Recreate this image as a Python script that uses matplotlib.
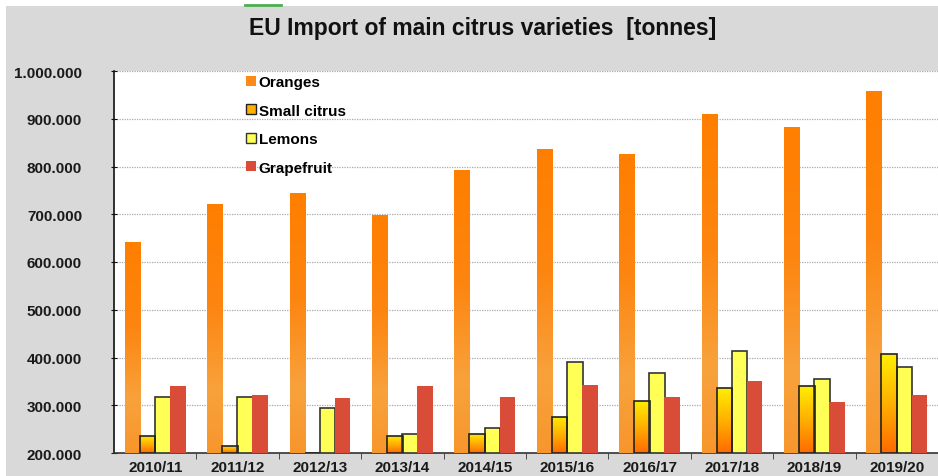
import numpy as np
import matplotlib
matplotlib.use("Agg")
import matplotlib.pyplot as plt
from matplotlib.patches import Rectangle
from matplotlib.lines import Line2D
from matplotlib.colors import LinearSegmentedColormap
from matplotlib.ticker import FixedLocator

plt.rcParams['font.family'] = ['Liberation Sans', 'DejaVu Sans']

seasons = ["2010/11", "2011/12", "2012/13", "2013/14", "2014/15",
           "2015/16", "2016/17", "2017/18", "2018/19", "2019/20"]
oranges = [642000, 721000, 744000, 698000, 793000, 837000, 826000, 910000, 883000, 958000]
small_citrus = [236000, 215000, 201000, 236000, 240000, 276000, 309000, 336000, 340000, 407000]
lemons = [317000, 318000, 295000, 240000, 252000, 390000, 367000, 414000, 356000, 381000]
grapefruit = [341000, 321000, 315000, 340000, 318000, 343000, 317000, 351000, 306000, 321000]
series_names = ["Oranges", "Small citrus", "Lemons", "Grapefruit"]
ytick_vals = [200000, 300000, 400000, 500000, 600000, 700000, 800000, 900000, 1000000]
ytick_labels = ["200.000", "300.000", "400.000", "500.000", "600.000",
                "700.000", "800.000", "900.000", "1.000.000"]

fig = plt.figure(figsize=(9.38, 4.77), dpi=100)
fig.patch.set_facecolor("white")
fig.add_artist(Rectangle((6/938, 0), 1, (477-7)/477, transform=fig.transFigure,
                         facecolor="#d9d9d9", edgecolor="none", zorder=0))
fig.add_artist(Line2D([245/938, 281/938], [1-6/477, 1-6/477], transform=fig.transFigure,
                      color="#4caf50", lw=2))

ax = fig.add_axes([114/938, 1-454/477, 1-114/938, (454-72)/477])
ax.set_facecolor("white")

ymin, ymax = 200000, 1000000
x = np.arange(len(seasons))
step = 0.183
w = 0.19
offsets = [-1.5*step, -0.5*step, 0.5*step, 1.5*step]

cm_orange = LinearSegmentedColormap.from_list("o", [(0, "#ff7f00"), (0.4, "#fd8510"), (0.75, "#f8a23c"), (1.0, "#f7962c")])
cm_small = LinearSegmentedColormap.from_list("s", [(0, "#ffee00"), (0.5, "#ffb000"), (1.0, "#ff6a00")])

def grad_bars(vals, off, cmap, edge, lw, z):
    bars = ax.bar(x + off, np.array(vals) - ymin, width=w, bottom=ymin,
                  facecolor="none", edgecolor=edge, linewidth=lw, zorder=z+0.5)
    for b in bars:
        x0, y0 = b.get_x(), b.get_y()
        x1, y1 = x0 + b.get_width(), y0 + b.get_height()
        g = np.linspace(0, 1, 256).reshape(-1, 1)
        im = ax.imshow(g, cmap=cmap, aspect="auto", extent=(x0, x1, y0, y1),
                       origin="upper", zorder=z, interpolation="bilinear")
        im.set_clip_path(b)
    return bars

grad_bars(oranges, offsets[0], cm_orange, "none", 0, 3)
grad_bars(small_citrus, offsets[1], cm_small, "#222222", 1.2, 4)
ax.bar(x + offsets[2], np.array(lemons) - ymin, width=w, bottom=ymin,
       color="#ffff55", edgecolor="#333333", linewidth=1.2, zorder=4)
ax.bar(x + offsets[3], np.array(grapefruit) - ymin, width=w, bottom=ymin,
       color="#d94d38", edgecolor="none", zorder=4)

ax.set_xlim(-0.5, len(seasons) - 0.5)
ax.set_ylim(ymin, ymax)
ax.set_yticks(ytick_vals)
ax.set_yticklabels(ytick_labels, fontsize=11, fontweight="bold", color="#1a1a1a")
ax.set_xticks(x)
ax.set_xticklabels(seasons, fontsize=11, fontweight="bold", color="#1a1a1a")
ax.tick_params(axis="x", which="major", length=0, pad=5)
ax.xaxis.set_minor_locator(FixedLocator(np.arange(0.5, len(seasons) - 0.5, 1)))
ax.tick_params(axis="x", which="minor", length=4, direction="out", color="#333333")
ax.tick_params(axis="y", length=4, direction="inout", pad=21, color="#111111")
ax.grid(axis="y", color="#aaaaaa", linestyle=(0, (1, 1)), linewidth=0.9, zorder=1)
ax.set_axisbelow(True)
for s in ["top", "right"]:
    ax.spines[s].set_visible(False)
ax.spines["left"].set_color("#111111")
ax.spines["left"].set_linewidth(1.2)
ax.spines["bottom"].set_color("#333333")
ax.spines["bottom"].set_linewidth(1.2)

handles = [
    Rectangle((0, 0), 1, 1, facecolor="#fb8a18", edgecolor="none"),
    Rectangle((0, 0), 1, 1, facecolor="#ffb000", edgecolor="#222222", linewidth=1),
    Rectangle((0, 0), 1, 1, facecolor="#ffff55", edgecolor="#333333", linewidth=1),
    Rectangle((0, 0), 1, 1, facecolor="#d94d38", edgecolor="none"),
]
leg = ax.legend(handles, series_names, loc="upper left", bbox_to_anchor=(0.143, 1.025),
                frameon=False, prop={"weight": "bold", "size": 11},
                handlelength=0.65, handleheight=0.65, handletextpad=0.2, labelspacing=0.95)

fig.text(483/938, 1-28/477, "EU Import of main citrus varieties  [tonnes]",
         ha="center", va="center", fontsize=16.5, fontweight="bold", color="#111111")

fig.savefig("out.png", dpi=100)
